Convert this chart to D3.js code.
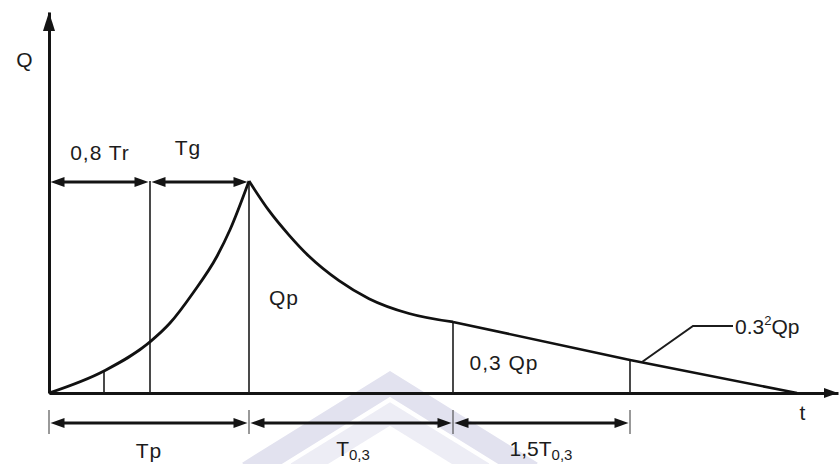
<!DOCTYPE html>
<html>
<head>
<meta charset="utf-8">
<script src="https://cdn.jsdelivr.net/npm/d3@7"></script>
<style>
  body { margin: 0; background: #fff; }
  svg { display: block; }
  text { font-family: "Liberation Sans", Arial, sans-serif; fill: #1c1c1c; }
</style>
</head>
<body>
<div id="chart"></div>
<script>
// hydrograph shape (t in units of Tp, Q in units of Qp)
var riseT = [0, 0.275, 0.505, 0.605, 0.72, 0.84, 0.905, 1.0];
var riseQ = [0, 0.104, 0.241, 0.330, 0.472, 0.645, 0.77, 1.0];
var fallT = [1.0, 1.10, 1.20, 1.30, 1.45, 1.60, 1.80, 2.02];
var fallQ = [1.0, 0.86, 0.745, 0.645, 0.53, 0.445, 0.375, 0.335];
var tailT = [2.02, 2.905, 3.74];
var tailQ = [0.335, 0.156, 0];

// vertical guide lines: position and top
var guideT = [0.275, 0.505, 1.0, 2.02, 2.905];
var guideQ = [0.104, 1.0, 1.0, 0.335, 0.156];

// dimension arrows
var topDims = [[0, 0.505], [0.505, 1.0]];
var topLabels = ["0,8 Tr", "Tg"];
var bottomDims = [[0, 1.0], [1.0, 2.02], [2.02, 2.905]];
var bottomTicks = [0, 1.0, 2.02, 2.905];

var tMax = 3.945, qMax = 1.797;

var width = 840, height = 464;
var svg = d3.select("#chart").append("svg")
    .attr("width", width)
    .attr("height", height);

var x = d3.scaleLinear().domain([0, tMax]).range([49, 838]);
var y = d3.scaleLinear().domain([0, 1]).range([393, 181]);

// faint watermark in the background
var wm = svg.append("g");
wm.append("path")
    .attr("d", "M248,472L390,384L532,472")
    .attr("fill", "none").attr("stroke", "#e2e2ef").attr("stroke-width", 22);
wm.append("path")
    .attr("d", "M296,472L390,414L484,472")
    .attr("fill", "none").attr("stroke", "#ededf5").attr("stroke-width", 20);

function arrowHead(g, px, py, dir, len, half) {
    // dir: "l", "r", "u"
    var pts;
    if (dir == "l") pts = [[px, py], [px + len, py - half], [px + len, py + half]];
    else if (dir == "r") pts = [[px, py], [px - len, py - half], [px - len, py + half]];
    else pts = [[px, py], [px - half, py + len], [px + half, py + len]];
    g.append("polygon")
        .attr("points", pts.map(function (p) { return p.join(","); }).join(" "))
        .attr("fill", "#141414");
}

// axes
var xAxis = d3.axisBottom(x).tickValues([]).tickSizeOuter(0);
var yAxis = d3.axisLeft(d3.scaleLinear().domain([0, qMax]).range([393, 12])).tickValues([]).tickSizeOuter(0);
var gx = svg.append("g").attr("transform", "translate(0," + y(0) + ")").call(xAxis);
var gy = svg.append("g").attr("transform", "translate(" + x(0) + ",0)").call(yAxis);
[gx, gy].forEach(function (g) {
    g.select(".domain").attr("stroke", "#141414").attr("stroke-width", 3);
});
arrowHead(svg, x(tMax), y(0), "r", 14, 5);
arrowHead(svg, x(0), 12, "u", 19, 6);

// guide lines
svg.selectAll("line.guide").data(guideT)
    .enter().append("line")
    .attr("class", "guide")
    .attr("x1", function (d) { return x(d); })
    .attr("x2", function (d) { return x(d); })
    .attr("y1", y(0))
    .attr("y2", function (d, i) { return y(guideQ[i]); })
    .attr("stroke", "#1c1c1c")
    .attr("stroke-width", 1.6);

// hydrograph
function pts(ts, qs) { return ts.map(function (t, i) { return [t, qs[i]]; }); }
var smooth = d3.line().x(function (d) { return x(d[0]); }).y(function (d) { return y(d[1]); }).curve(d3.curveMonotoneX);
var straight = d3.line().x(function (d) { return x(d[0]); }).y(function (d) { return y(d[1]); });
svg.append("path").attr("d", smooth(pts(riseT, riseQ)))
    .attr("fill", "none").attr("stroke", "#111").attr("stroke-width", 2.8);
svg.append("path").attr("d", smooth(pts(fallT, fallQ)))
    .attr("fill", "none").attr("stroke", "#111").attr("stroke-width", 2.8);
svg.append("path").attr("d", straight(pts(tailT, tailQ)))
    .attr("fill", "none").attr("stroke", "#111").attr("stroke-width", 2.6);

// dimension arrows
function dimArrow(t0, t1, py, gap) {
    var x0 = x(t0) + gap, x1 = x(t1) - gap;
    svg.append("line")
        .attr("x1", x0 + 6).attr("x2", x1 - 6)
        .attr("y1", py).attr("y2", py)
        .attr("stroke", "#141414").attr("stroke-width", 2.8);
    arrowHead(svg, x0, py, "l", 14, 5);
    arrowHead(svg, x1, py, "r", 14, 5);
}
var topY = y(1) + 1;
topDims.forEach(function (d) { dimArrow(d[0], d[1], topY, 1.5); });
var botY = 423;
bottomDims.forEach(function (d) { dimArrow(d[0], d[1], botY, 1.5); });
svg.selectAll("line.btick").data(bottomTicks)
    .enter().append("line")
    .attr("class", "btick")
    .attr("x1", function (d) { return x(d); })
    .attr("x2", function (d) { return x(d); })
    .attr("y1", 410).attr("y2", 434)
    .attr("stroke", "#555").attr("stroke-width", 1.2);

// labels
var fs = 21;
function label(tx, ty, txt, anchor) {
    return svg.append("text")
        .attr("x", tx).attr("y", ty)
        .attr("text-anchor", anchor || "middle")
        .attr("font-size", fs)
        .attr("letter-spacing", 1)
        .text(txt);
}
label(25, 67, "Q");
label(x(0.255), 160, topLabels[0]);
label(x(0.695), 155, topLabels[1]);
label(284, 305, "Qp");
label(504, 370, "0,3 Qp");
label(803, 420, "t");
label(x(0.5), 458, "Tp");

function subLabel(tx, ty, main, sub) {
    var t = svg.append("text")
        .attr("x", tx).attr("y", ty)
        .attr("text-anchor", "middle")
        .attr("font-size", fs);
    t.append("tspan").text(main);
    t.append("tspan").attr("dy", 4).attr("font-size", 15).text(sub);
}
subLabel(x(1.52), 456, "T", "0,3");
subLabel(x(2.46), 456, "1,5T", "0,3");

// 0.3^2 Qp leader
var lx = x(2.905) + 12, ly = y(0.146);
svg.append("path")
    .attr("d", "M" + lx + "," + ly + "L" + x(3.22) + "," + y(0.316) + "L" + x(3.42) + "," + y(0.316))
    .attr("fill", "none").attr("stroke", "#1c1c1c").attr("stroke-width", 2);
var sq = svg.append("text")
    .attr("x", x(3.42) + 2).attr("y", y(0.316) + 8)
    .attr("font-size", fs);
sq.append("tspan").text("0.3");
sq.append("tspan").attr("dy", -9).attr("font-size", 13).text("2");
sq.append("tspan").attr("dy", 9).text("Qp");
</script>
</body>
</html>
